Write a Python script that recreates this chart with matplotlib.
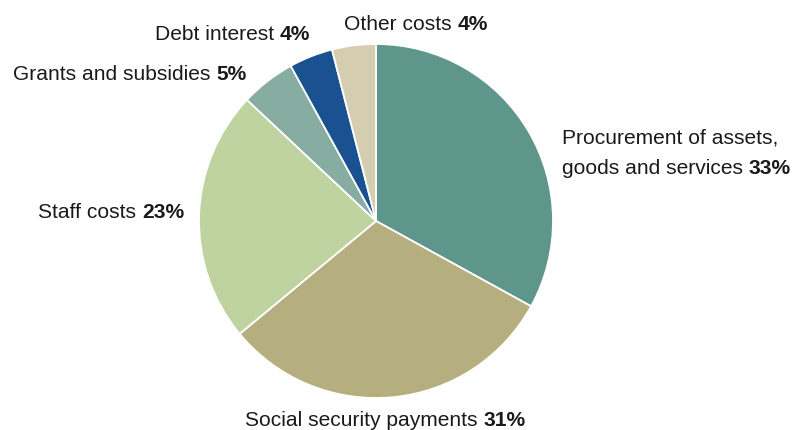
import matplotlib
matplotlib.use('Agg')
import matplotlib.pyplot as plt

# Spending breakdown, clockwise from the top
categories = ['Procurement of assets,\ngoods and services', 'Social security payments',
              'Staff costs', 'Grants and subsidies', 'Debt interest', 'Other costs']
shares = [33, 31, 23, 5, 4, 4]
colors = ['#5f968b', '#b5ae7f', '#bed3a0', '#87ada3', '#1a5191', '#d5cdb0']

# label anchor (left x, centre y) in pixel coordinates, y measured from the top
label_pos = [(562, 138), (245, 420), (38, 213), (13, 74), (155, 34), (344, 24)]

plt.rcParams['font.family'] = ['Liberation Sans', 'DejaVu Sans']

W, H = 792, 430
fig = plt.figure(figsize=(W / 100, H / 100), dpi=100)
ax = fig.add_axes([0, 0, 1, 1])

ax.pie(shares, colors=colors, startangle=90, counterclock=False,
       center=(376, H - 221), radius=177, frame=True,
       wedgeprops=dict(edgecolor='white', linewidth=1.3))
ax.set_xlim(0, W)
ax.set_ylim(0, H)
ax.set_aspect('equal')
ax.axis('off')

fs = 15.1
for name, val, (x, y) in zip(categories, shares, label_pos):
    lines = name.split('\n')
    # every line but the last is plain text
    for i, line in enumerate(lines[:-1]):
        ax.text(x, H - y, line, fontsize=fs, color='#1a1a1a', va='center', ha='left')
    y_last = y + 30 * (len(lines) - 1)
    t = ax.text(x, H - y_last, lines[-1] + ' ', fontsize=fs, color='#1a1a1a',
                va='center', ha='left')
    ax.annotate(f'{val}%', xy=(1, 0), xycoords=t, va='bottom', ha='left',
                fontsize=fs, fontweight='bold', color='#1a1a1a')

fig.savefig('out.png', dpi=100)
